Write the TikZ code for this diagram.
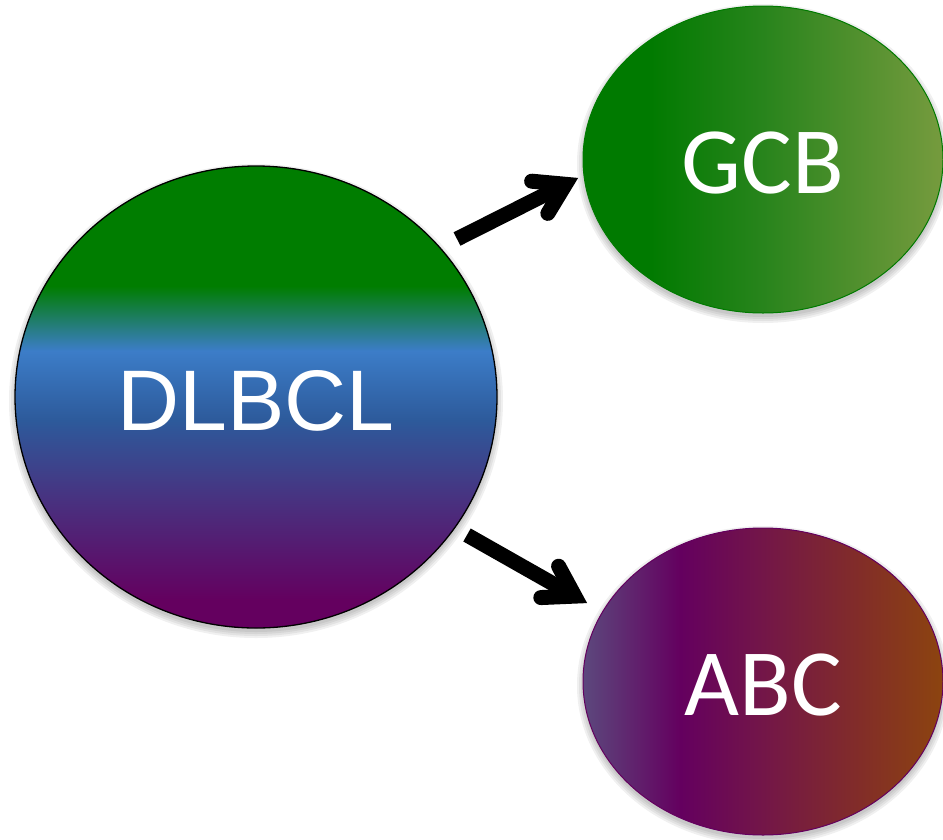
\documentclass[tikz,border=0pt]{standalone}
\usepackage{fontspec}
\usetikzlibrary{shapes.geometric,calc}
\newfontfamily\arialf{Liberation Sans}
\newfontfamily\calibf{Carlito}
\definecolor{dlgreen}{RGB}{0,125,0}
\definecolor{dlblue}{RGB}{60,125,200}
\definecolor{dlmid}{RGB}{45,90,155}
\definecolor{dlviol}{RGB}{72,50,128}
\definecolor{dlpurp}{RGB}{100,0,95}
\definecolor{gcbL}{RGB}{0,122,0}
\definecolor{gcbM}{RGB}{40,132,28}
\definecolor{gcbR}{RGB}{118,155,62}
\definecolor{abcL}{RGB}{92,72,125}
\definecolor{abcP}{RGB}{100,0,95}
\definecolor{abcM}{RGB}{115,22,72}
\definecolor{abcO}{RGB}{130,45,40}
\definecolor{abcR}{RGB}{140,68,15}
\pgfdeclareverticalshading{dlshade}{100bp}{color(0bp)=(dlpurp); color(28bp)=(dlpurp); color(39bp)=(dlviol); color(47.5bp)=(dlmid); color(55bp)=(dlblue); color(62bp)=(dlgreen); color(100bp)=(dlgreen)}
\pgfdeclarehorizontalshading{gcbshade}{100bp}{color(0bp)=(gcbL); color(34bp)=(gcbL); color(50bp)=(gcbM); color(75bp)=(gcbR); color(100bp)=(gcbR)}
\pgfdeclarehorizontalshading{abcshade}{100bp}{color(0bp)=(abcL); color(25bp)=(abcL); color(38.5bp)=(abcP); color(50bp)=(abcM); color(63.5bp)=(abcO); color(75bp)=(abcR); color(100bp)=(abcR)}
\tikzset{
  blob/.style={ellipse, inner sep=0pt, text=white, shade},
  arrowstroke/.style={line width=15pt, black},
  softshadow/.style={fill=black, opacity=0.06, draw=none}
}
\begin{document}
\begin{tikzpicture}[x=1pt,y=-1pt]
\useasboundingbox (0,0) rectangle (943,839);
% soft shadows
\foreach \d in {0,2,4,6}{
  \fill[softshadow] (256,401) ellipse ({241+\d} and {231+\d});
  \fill[softshadow] (763,163.5) ellipse ({180+\d} and {153.5+\d});
  \fill[softshadow] (763,685.5) ellipse ({180+\d} and {153.5+\d});
}
\node[blob, shading=dlshade, draw=black, line width=1.3pt, minimum width=482pt, minimum height=462pt,
      text height=66pt, text depth=0pt,
      font=\arialf\fontsize{86}{90}\selectfont] (dl) at (256,397) {DLBCL};
\node[blob, shading=gcbshade, draw=gcbL, line width=1pt, minimum width=360pt, minimum height=307pt,
      text height=68pt, text depth=0pt,
      font=\calibf\fontsize{95}{100}\selectfont] (gcb) at (763,159.5) {GCB};
\node[blob, shading=abcshade, draw=abcP, line width=1pt, minimum width=360pt, minimum height=307pt,
      text height=68pt, text depth=0pt,
      font=\calibf\fontsize{95}{100}\selectfont] (abc) at (763,681.5) {ABC};
% arrows
\coordinate (us) at (457,239);
\coordinate (uv) at (565.5,184.3);
\coordinate (ls) at (467,535);
\coordinate (lv) at (574.8,596.1);
\draw[arrowstroke, line cap=butt] (us) -- (uv);
\draw[arrowstroke, line cap=round, line join=miter] ($(uv)!34pt!32:(us)$) -- (uv) -- ($(uv)!34pt!-32:(us)$);
\draw[arrowstroke, line cap=butt] (ls) -- (lv);
\draw[arrowstroke, line cap=round, line join=miter] ($(lv)!34pt!32:(ls)$) -- (lv) -- ($(lv)!34pt!-32:(ls)$);
\end{tikzpicture}
\end{document}
